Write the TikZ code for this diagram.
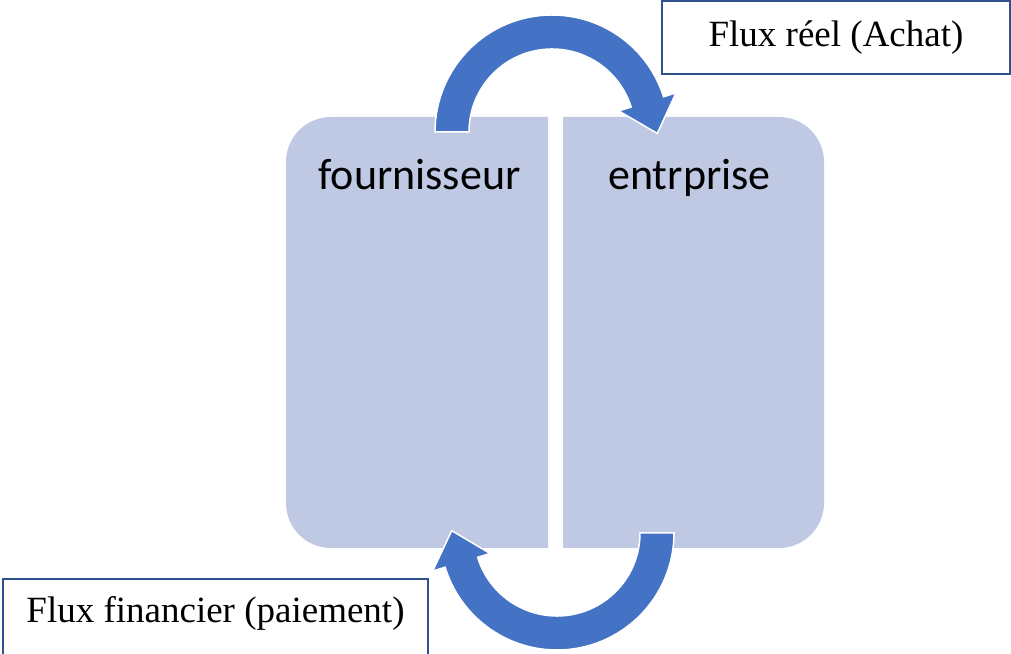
\documentclass[tikz,border=0pt]{standalone}
\usepackage{fontspec}
\setmainfont{Liberation Serif}
\newfontfamily\calfont{Carlito}
\usetikzlibrary{calc}
\definecolor{boxfill}{RGB}{191,201,228}
\definecolor{arrowblue}{RGB}{68,114,196}
\definecolor{lblborder}{RGB}{47,82,143}
\tikzset{
  panel/.style={fill=boxfill},
  flowarrow/.style={fill=arrowblue, draw=white, line width=1.5pt, line join=miter},
  lblbox/.style={draw=lblborder, line width=1.6pt, fill=white},
  paneltext/.style={font=\calfont\fontsize{44}{50}\selectfont, anchor=base},
  lbltext/.style={font=\fontsize{37}{42}\selectfont, anchor=base}
}
\begin{document}
\begin{tikzpicture}[x=1pt,y=1pt]
\useasboundingbox (0,0) rectangle (1011,653);
\clip (0,0) rectangle (1011,653);
% panels
\path[panel] (548,536) -- (331,536) arc[start angle=90,end angle=180,radius=45]
  -- (286,150) arc[start angle=180,end angle=270,radius=45] -- (548,105) -- cycle;
\path[panel] (563,536) -- (779,536) arc[start angle=90,end angle=0,radius=45]
  -- (824,150) arc[start angle=0,end angle=-90,radius=45] -- (563,105) -- cycle;
\node[paneltext] (fournisseur) at (419.5,463) {fournisseur};
\node[paneltext] (entreprise) at (689.5,463) {entrprise};
% top arrow
\coordinate (C1) at (552,521);
\draw[flowarrow] ($(C1)+(180:117)$) arc[start angle=180,end angle=17.5,radius=117]
  -- ($(C1)+(17.5:130)$) -- ($(C1)+(17.5:100)+(-72.5:33)$) -- ($(C1)+(17.5:70)$)
  -- ($(C1)+(17.5:83)$) arc[start angle=17.5,end angle=180,radius=83] -- cycle;
% bottom arrow
\coordinate (C2) at (557,120);
\draw[flowarrow] ($(C2)+(0:117)$) arc[start angle=0,end angle=-163,radius=117]
  -- ($(C2)+(-163:130)$) -- ($(C2)+(-163:100)+(107:33)$) -- ($(C2)+(-163:70)$)
  -- ($(C2)+(-163:83)$) arc[start angle=-163,end angle=0,radius=83] -- cycle;
% labels
\node[lblbox, minimum width=348pt, minimum height=73pt, inner sep=0pt] (reelbox) at (836,615.5) {};
\node[lbltext] (reel) at (836,606) {Flux réel (Achat)};
\node[lblbox, minimum width=425pt, minimum height=100pt, inner sep=0pt] (finbox) at (215.5,24) {};
\node[lbltext] (fin) at (215.5,31) {Flux financier (paiement)};
\end{tikzpicture}
\end{document}
